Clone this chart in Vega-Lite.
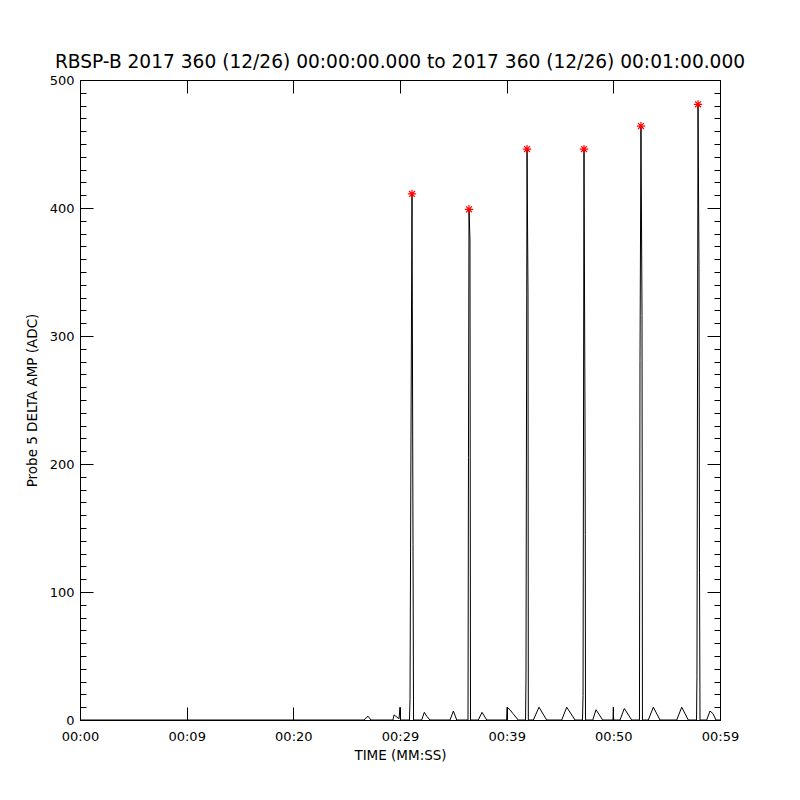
{
  "$schema": "https://vega.github.io/schema/vega-lite/v6.json",
  "width": 640,
  "height": 640,
  "autosize": {"type": "none"},
  "padding": {"left": 80, "top": 80, "right": 80, "bottom": 80},
  "background": "white",
  "title": {
    "text": "RBSP-B 2017 360 (12/26) 00:00:00.000 to 2017 360 (12/26) 00:01:00.000",
    "font": "DejaVu Sans",
    "fontSize": 18.6,
    "fontWeight": "normal",
    "color": "black",
    "anchor": "middle",
    "offset": 2
  },
  "datasets": {
    "signal": [
      {"t": 0, "v": 0}, {"t": 26.44, "v": 0}, {"t": 26.63, "v": 0}, {"t": 27.0, "v": 3}, {"t": 27.28, "v": 0},
      {"t": 29.34, "v": 0}, {"t": 29.44, "v": 4}, {"t": 29.91, "v": 1}, {"t": 30.0, "v": 10}, {"t": 30.05, "v": 0},
      {"t": 30.89, "v": 0}, {"t": 30.94, "v": 16}, {"t": 31.03, "v": 222}, {"t": 31.125, "v": 411}, {"t": 31.22, "v": 137}, {"t": 31.27, "v": 0},
      {"t": 32.03, "v": 0}, {"t": 32.28, "v": 6}, {"t": 32.5, "v": 3}, {"t": 32.81, "v": 0},
      {"t": 34.69, "v": 0}, {"t": 35.0, "v": 7}, {"t": 35.32, "v": 0},
      {"t": 36.375, "v": 0}, {"t": 36.42, "v": 205}, {"t": 36.47, "v": 399}, {"t": 36.56, "v": 375}, {"t": 36.61, "v": 0},
      {"t": 37.34, "v": 0}, {"t": 37.69, "v": 6}, {"t": 38.13, "v": 0},
      {"t": 40.0, "v": 0}, {"t": 40.03, "v": 10}, {"t": 40.31, "v": 8}, {"t": 40.59, "v": 5}, {"t": 41.09, "v": 0},
      {"t": 41.77, "v": 0}, {"t": 41.81, "v": 32}, {"t": 41.91, "v": 446}, {"t": 42.0, "v": 333}, {"t": 42.03, "v": 0},
      {"t": 42.5, "v": 0}, {"t": 43.03, "v": 10}, {"t": 43.75, "v": 0},
      {"t": 45.16, "v": 0}, {"t": 45.63, "v": 10}, {"t": 46.41, "v": 0},
      {"t": 47.11, "v": 0}, {"t": 47.16, "v": 19}, {"t": 47.25, "v": 446}, {"t": 47.34, "v": 243}, {"t": 47.37, "v": 145}, {"t": 47.39, "v": 0},
      {"t": 48.07, "v": 0}, {"t": 48.375, "v": 8}, {"t": 49.0, "v": 0},
      {"t": 49.97, "v": 0}, {"t": 50.0, "v": 10}, {"t": 50.03, "v": 0},
      {"t": 50.625, "v": 0}, {"t": 51.03, "v": 9}, {"t": 51.72, "v": 0},
      {"t": 52.45, "v": 0}, {"t": 52.5, "v": 281}, {"t": 52.59, "v": 464}, {"t": 52.69, "v": 316}, {"t": 52.73, "v": 0},
      {"t": 53.28, "v": 0}, {"t": 53.75, "v": 10}, {"t": 54.375, "v": 0},
      {"t": 55.94, "v": 0}, {"t": 56.41, "v": 10}, {"t": 57.03, "v": 0},
      {"t": 57.8, "v": 0}, {"t": 57.84, "v": 35}, {"t": 57.94, "v": 481}, {"t": 58.03, "v": 355}, {"t": 58.08, "v": 115}, {"t": 58.125, "v": 0},
      {"t": 58.75, "v": 0}, {"t": 59.06, "v": 7}, {"t": 59.34, "v": 5}, {"t": 59.625, "v": 0}, {"t": 60, "v": 0}
    ],
    "peaks": [
      {"t": 31.125, "v": 411}, {"t": 36.47, "v": 399}, {"t": 41.91, "v": 446},
      {"t": 47.25, "v": 446}, {"t": 52.59, "v": 464}, {"t": 57.94, "v": 481}
    ]
  },
  "data": {"name": "signal"},
  "resolve": {"axis": {"x": "independent", "y": "independent"}},
  "layer": [
    {
      "mark": {"type": "line", "color": "black", "strokeWidth": 1, "interpolate": "linear"},
      "encoding": {
        "x": {"field": "t", "type": "quantitative", "sort": null,
          "scale": {"domain": [0, 60], "nice": false, "zero": false},
          "axis": {"orient": "bottom", "values": [0, 10, 20, 30, 40, 50, 60], "ticks": false, "domain": false, "grid": false,
            "labelExpr": "['00:00','00:09','00:20','00:29','00:39','00:50','00:59'][round(datum.value/10)]",
            "labelPadding": 10, "labelFlush": false, "labelOverlap": false,
            "title": "TIME (MM:SS)", "titlePadding": 5}},
        "y": {"field": "v", "type": "quantitative",
          "scale": {"domain": [0, 500], "nice": false, "zero": false},
          "axis": {"orient": "left", "values": [0, 100, 200, 300, 400, 500], "ticks": false, "domain": false, "grid": false,
            "labelPadding": 6, "labelFlush": false, "labelOverlap": false,
            "title": "Probe 5 DELTA AMP (ADC)", "titlePadding": 10}},
        "order": {"field": "t", "type": "quantitative"}
      }
    },
    {
      "mark": {"type": "line", "strokeOpacity": 0},
      "encoding": {
        "x": {"field": "t", "type": "quantitative",
          "axis": {"orient": "bottom", "values": [0, 10, 20, 30, 40, 50, 60], "labels": false, "ticks": true, "tickSize": -13, "tickColor": "black", "domain": false, "grid": false, "title": null}},
        "y": {"field": "v", "type": "quantitative",
          "axis": {"orient": "left", "values": [0, 100, 200, 300, 400, 500], "labels": false, "ticks": true, "tickSize": -13, "tickColor": "black", "domain": false, "grid": false, "title": null}}
      }
    },
    {
      "mark": {"type": "line", "strokeOpacity": 0},
      "encoding": {
        "x": {"field": "t", "type": "quantitative",
          "axis": {"orient": "top", "values": [0, 10, 20, 30, 40, 50, 60], "labels": false, "ticks": true, "tickSize": -13, "tickColor": "black", "domain": false, "grid": false, "title": null}},
        "y": {"field": "v", "type": "quantitative",
          "axis": {"orient": "right", "values": [0, 100, 200, 300, 400, 500], "labels": false, "ticks": true, "tickSize": -13, "tickColor": "black", "domain": false, "grid": false, "title": null}}
      }
    },
    {
      "mark": {"type": "line", "strokeOpacity": 0},
      "encoding": {
        "x": {"field": "t", "type": "quantitative", "axis": null},
        "y": {"field": "v", "type": "quantitative",
          "axis": {"orient": "left", "values": [10, 20, 30, 40, 50, 60, 70, 80, 90, 110, 120, 130, 140, 150, 160, 170, 180, 190, 210, 220, 230, 240, 250, 260, 270, 280, 290, 310, 320, 330, 340, 350, 360, 370, 380, 390, 410, 420, 430, 440, 450, 460, 470, 480, 490], "labels": false, "ticks": true, "tickSize": -6, "tickColor": "black", "domain": false, "grid": false, "title": null}}
      }
    },
    {
      "mark": {"type": "line", "strokeOpacity": 0},
      "encoding": {
        "x": {"field": "t", "type": "quantitative", "axis": null},
        "y": {"field": "v", "type": "quantitative",
          "axis": {"orient": "right", "values": [10, 20, 30, 40, 50, 60, 70, 80, 90, 110, 120, 130, 140, 150, 160, 170, 180, 190, 210, 220, 230, 240, 250, 260, 270, 280, 290, 310, 320, 330, 340, 350, 360, 370, 380, 390, 410, 420, 430, 440, 450, 460, 470, 480, 490], "labels": false, "ticks": true, "tickSize": -6, "tickColor": "black", "domain": false, "grid": false, "title": null}}
      }
    },
    {
      "data": {"name": "peaks"},
      "mark": {"type": "point", "shape": "M0,-1L0,1M-1,0L1,0M-0.7,-0.7L0.7,0.7M-0.7,0.7L0.7,-0.7", "filled": false, "stroke": "#ff0000", "strokeWidth": 1.2, "size": 70, "opacity": 1},
      "encoding": {
        "x": {"field": "t", "type": "quantitative", "axis": null},
        "y": {"field": "v", "type": "quantitative", "axis": null}
      }
    }
  ],
  "config": {
    "view": {"stroke": "black", "strokeWidth": 1},
    "axis": {
      "labelFont": "DejaVu Sans", "labelFontSize": 13, "labelColor": "black",
      "titleFont": "DejaVu Sans", "titleFontSize": 13.5, "titleFontWeight": "normal", "titleColor": "black",
      "tickWidth": 1
    }
  }
}
